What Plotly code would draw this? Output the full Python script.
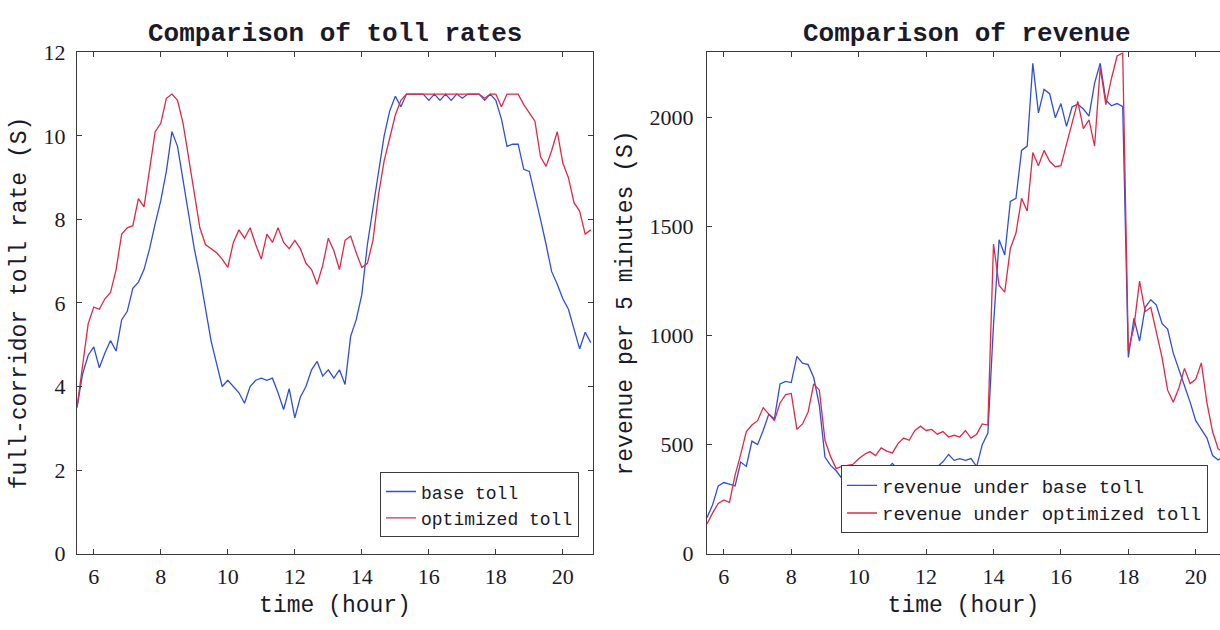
import plotly.graph_objects as go

# 10-minute sampling grid, 05:30 -> 20:50
minutes = list(range(330, 1251, 10))
hours = [m / 60 for m in minutes]

# full-corridor toll rate ($)
base_toll = [
    3.5, 4.3, 4.75, 4.95, 4.45, 4.8, 5.1, 4.85, 5.6, 5.8,
    6.35, 6.5, 6.8, 7.3, 7.9, 8.45, 9.15, 10.1, 9.75, 8.95,
    8.15, 7.3, 6.65, 5.85, 5.1, 4.55, 4.0, 4.15, 4.0, 3.85,
    3.6, 4.0, 4.15, 4.2, 4.15, 4.2, 3.85, 3.45, 3.95, 3.25,
    3.75, 4.0, 4.4, 4.6, 4.25, 4.4, 4.2, 4.4, 4.05, 5.2,
    5.6, 6.2, 7.4, 8.3, 9.2, 10.0, 10.6, 10.95, 10.7, 11.0,
    11.0, 11.0, 11.0, 10.85, 11.0, 10.85, 11.0, 10.85, 11.0, 10.9,
    11.0, 11.0, 11.0, 10.85, 11.0, 10.85, 10.4, 9.75, 9.8, 9.8,
    9.2, 9.15, 8.6, 8.0, 7.4, 6.75, 6.45, 6.1, 5.85, 5.4,
    4.9, 5.3, 5.05,
]
opt_toll = [
    3.5, 4.5, 5.5, 5.9, 5.85, 6.1, 6.25, 6.8, 7.65, 7.8,
    7.85, 8.5, 8.3, 9.2, 10.1, 10.3, 10.9, 11.0, 10.85, 10.3,
    9.5, 8.6, 7.8, 7.4, 7.3, 7.2, 7.05, 6.85, 7.45, 7.75,
    7.55, 7.8, 7.4, 7.05, 7.65, 7.45, 7.8, 7.45, 7.3, 7.5,
    7.3, 6.95, 6.8, 6.45, 6.9, 7.55, 7.25, 6.8, 7.5, 7.6,
    7.2, 6.85, 6.95, 7.5, 8.6, 9.4, 9.95, 10.5, 10.85, 11.0,
    11.0, 11.0, 11.0, 11.0, 11.0, 11.0, 11.0, 11.0, 11.0, 11.0,
    11.0, 11.0, 11.0, 10.9, 11.0, 11.0, 10.7, 11.0, 11.0, 11.0,
    10.75, 10.55, 10.35, 9.5, 9.27, 9.65, 10.1, 9.35, 9.0, 8.4,
    8.2, 7.65, 7.75,
]

# revenue collected per 5-minute interval ($)
base_rev = [
    165, 224, 311, 326, 319, 311, 420, 400, 516, 500,
    565, 640, 618, 779, 790, 785, 905, 874, 867, 808,
    680, 443, 405, 380, 345, 335, 310, 340, 300, 320,
    300, 345, 390, 414, 385, 395, 355, 335, 399, 348,
    363, 399, 421, 455, 428, 436, 428, 436, 399, 500,
    553, 1050, 1440, 1370, 1616, 1630, 1850, 1870, 2250, 2022,
    2130, 2110, 2000, 2065, 1960, 2050, 2062, 2040, 2007, 2159,
    2250, 2080, 2055, 2065, 2051, 900, 1080, 975, 1130, 1165,
    1140, 1055, 1030, 920, 840, 770, 695, 610, 570, 530,
    450, 430, 445,
]
opt_rev = [
    136, 187, 230, 246, 235, 360, 455, 560, 590, 610,
    670, 640, 610, 691, 730, 735, 570, 595, 650, 779,
    750, 520, 445, 390, 400, 405, 410, 435, 455, 468,
    450, 485, 470, 462, 505, 530, 520, 565, 585, 565,
    570, 548, 560, 535, 543, 535, 565, 530, 548, 595,
    590, 1420, 1230, 1200, 1400, 1471, 1630, 1572, 1840, 1780,
    1850, 1800, 1775, 1780, 1880, 1980, 2075, 1950, 1990, 1870,
    2230, 2060, 2180, 2283, 2297, 930, 1040, 1250, 1110, 1130,
    1010, 900, 750, 695, 760, 850, 780, 800, 875, 690,
    560, 480, 470,
]

hour_ticks = [6, 8, 10, 12, 14, 16, 18, 20]
toll_ticks = [0, 2, 4, 6, 8, 10, 12]
rev_ticks = [0, 500, 1000, 1500, 2000]

BLUE = "#2f4fd6"
RED = "#dc2a48"
INK = "#1a1a2a"
AXIS = "#3a3a3a"
MONO = "Liberation Mono"
SERIF = "Liberation Serif"

W, H = 1220, 630
PLOT_TOP, PLOT_BOTTOM = 42, 564
L_LEFT, L_RIGHT = 77, 593
R_LEFT = 707

fig = go.Figure()
fig.add_trace(go.Scatter(x=hours, y=base_toll, mode="lines", name="base toll",
                         line=dict(color=BLUE, width=1.3), xaxis="x", yaxis="y",
                         legend="legend"))
fig.add_trace(go.Scatter(x=hours, y=opt_toll, mode="lines", name="optimized toll",
                         line=dict(color=RED, width=1.3), xaxis="x", yaxis="y",
                         legend="legend"))
fig.add_trace(go.Scatter(x=hours, y=base_rev, mode="lines", name="revenue under base toll",
                         line=dict(color=BLUE, width=1.3), xaxis="x2", yaxis="y2",
                         legend="legend2"))
fig.add_trace(go.Scatter(x=hours, y=opt_rev, mode="lines", name="revenue under optimized toll",
                         line=dict(color=RED, width=1.3), xaxis="x2", yaxis="y2",
                         legend="legend2"))

ydom = [1 - PLOT_BOTTOM / H, 1 - PLOT_TOP / H]
common = dict(showline=True, linecolor=AXIS, linewidth=1, ticks="inside", ticklen=5,
              tickcolor=AXIS, showgrid=False, zeroline=False,
              tickfont=dict(family=SERIF, size=22, color=INK))
title_font = dict(family=MONO, size=23, color=INK)

fig.update_layout(
    width=W, height=H,
    margin=dict(l=0, r=0, t=0, b=0),
    paper_bgcolor="white", plot_bgcolor="white",
    xaxis=dict(domain=[L_LEFT / W, L_RIGHT / W], range=[5.5, 20.9], tickvals=hour_ticks,
               anchor="y", mirror="ticks", ticklabelstandoff=3,
               title=dict(text="time (hour)", font=title_font, standoff=7), **common),
    yaxis=dict(domain=ydom, range=[0, 12], tickvals=toll_ticks, anchor="x",
               mirror="ticks", ticklabelstandoff=6,
               title=dict(text="full-corridor toll rate (S)", font=title_font, standoff=10),
               **common),
    xaxis2=dict(domain=[R_LEFT / W, 1.0], range=[5.5, 20.72], tickvals=hour_ticks,
                anchor="y2", mirror="ticks", ticklabelstandoff=3,
                title=dict(text="time (hour)", font=title_font, standoff=7), **common),
    yaxis2=dict(domain=ydom, range=[0, 2300], tickvals=rev_ticks, anchor="x2",
                mirror=False, ticklabelstandoff=8,
                title=dict(text="revenue per 5 minutes (S)", font=title_font, standoff=10),
                **common),
    legend=dict(x=579 / W, xanchor="right", y=1 - 547 / H, yanchor="bottom",
                bgcolor="white", bordercolor=AXIS, borderwidth=1,
                font=dict(family=MONO, size=18, color=INK), tracegroupgap=0),
    legend2=dict(x=1208 / W, xanchor="right", y=1 - 543 / H, yanchor="bottom",
                 bgcolor="white", bordercolor=AXIS, borderwidth=1,
                 font=dict(family=MONO, size=19, color=INK), tracegroupgap=0),
    showlegend=True,
)

for text, x0, x1 in [("Comparison of toll rates", L_LEFT, L_RIGHT),
                     ("Comparison of revenue", R_LEFT, 1226)]:
    fig.add_annotation(text=text, xref="paper", yref="paper",
                       x=(x0 + x1) / 2 / W, y=1 - 23 / H, xanchor="center", yanchor="middle",
                       showarrow=False,
                       font=dict(family=MONO, size=26, color=INK, weight="bold"))

fig.write_html("out.html")
